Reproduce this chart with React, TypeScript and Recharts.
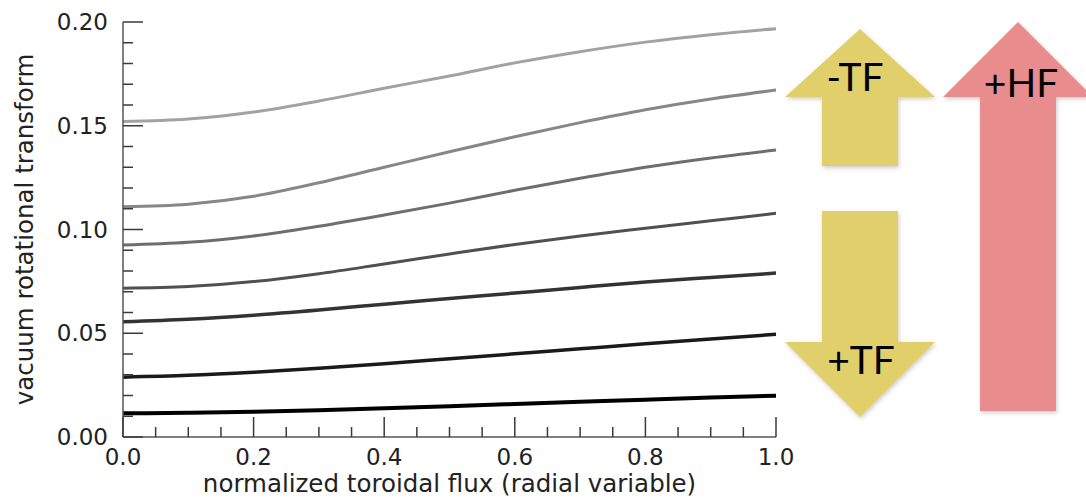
import { LineChart, Line, XAxis, YAxis } from 'recharts'

// radial variable samples
const xValues = [0, 0.1, 0.2, 0.3, 0.4, 0.5, 0.6, 0.7, 0.8, 0.9, 1.0]

// vacuum rotational transform, top curve first
const iota1 = [0.152, 0.1532, 0.1566, 0.1619, 0.1681, 0.174, 0.1803, 0.1857, 0.1903, 0.1939, 0.1968]
const iota2 = [0.111, 0.1122, 0.116, 0.1225, 0.13, 0.1375, 0.1447, 0.1515, 0.1577, 0.1629, 0.1672]
const iota3 = [0.0925, 0.0938, 0.0969, 0.1016, 0.107, 0.1127, 0.1189, 0.1247, 0.13, 0.1345, 0.1383]
const iota4 = [0.0717, 0.0725, 0.0749, 0.0787, 0.0834, 0.0882, 0.0928, 0.0969, 0.1006, 0.1042, 0.1078]
const iota5 = [0.0556, 0.0568, 0.0587, 0.0612, 0.064, 0.0667, 0.0694, 0.0721, 0.0747, 0.0769, 0.079]
const iota6 = [0.0288, 0.0297, 0.0312, 0.0331, 0.0353, 0.0377, 0.0401, 0.0425, 0.0449, 0.0472, 0.0495]
const iota7 = [0.0114, 0.0117, 0.0122, 0.0129, 0.0138, 0.0148, 0.0159, 0.017, 0.018, 0.019, 0.0199]

const seriesValues = [iota1, iota2, iota3, iota4, iota5, iota6, iota7]
const seriesColors = ['#a2a2a2', '#878787', '#6e6e6e', '#505050', '#333333', '#1a1a1a', '#000000']

const xTicks = [0, 0.05, 0.1, 0.15, 0.2, 0.25, 0.3, 0.35, 0.4, 0.45, 0.5, 0.55, 0.6, 0.65, 0.7, 0.75, 0.8, 0.85, 0.9, 0.95, 1.0]
const xMajorTicks = [0, 0.2, 0.4, 0.6, 0.8, 1.0]
const yTicks = [0, 0.01, 0.02, 0.03, 0.04, 0.05, 0.06, 0.07, 0.08, 0.09, 0.1, 0.11, 0.12, 0.13, 0.14, 0.15, 0.16, 0.17, 0.18, 0.19, 0.2]
const yMajorTicks = [0, 0.05, 0.1, 0.15, 0.2]

const xTitle = 'normalized toroidal flux (radial variable)'
const yTitle = 'vacuum rotational transform'

const data = xValues.map((x, i) => {
  const row: Record<string, number> = { x }
  seriesValues.forEach((s, j) => { row[`s${j + 1}`] = s[i] })
  return row
})

const FONT = '"DejaVu Sans", sans-serif'
const TICK_COLOR = '#3a3a3a'
const MAJOR = 20
const MINOR = 10
const Y_GAP = 15

const isMajor = (list: number[], v: number) => list.some(m => Math.abs(m - v) < 1e-6)

const BottomTick = (props: any) => {
  const { x, y, payload } = props
  const major = isMajor(xMajorTicks, payload.value)
  return (
    <g>
      <line x1={x} x2={x} y1={y} y2={y - (major ? MAJOR : MINOR)} stroke={TICK_COLOR} strokeWidth={1.5} />
      {major && (
        <text x={x} y={y + 28} textAnchor="middle" fontFamily={FONT} fontSize={23} fill="#222">
          {payload.value.toFixed(1)}
        </text>
      )}
    </g>
  )
}

const TopTick = (props: any) => {
  const { x, y, payload } = props
  const major = isMajor(xMajorTicks, payload.value)
  return <line x1={x} x2={x} y1={y} y2={y + (major ? MAJOR : MINOR)} stroke={TICK_COLOR} strokeWidth={1.5} />
}

const LeftTick = (props: any) => {
  const { x, y, payload } = props
  const major = isMajor(yMajorTicks, payload.value)
  return (
    <g>
      <line x1={x + Y_GAP} x2={x + Y_GAP + (major ? MAJOR : MINOR)} y1={y} y2={y} stroke={TICK_COLOR} strokeWidth={1.5} />
      {major && (
        <text x={x} y={y} dy={8} textAnchor="end" fontFamily={FONT} fontSize={23} fill="#222">
          {payload.value.toFixed(2)}
        </text>
      )}
    </g>
  )
}

const RightTick = (props: any) => {
  const { x, y, payload } = props
  const major = isMajor(yMajorTicks, payload.value)
  return <line x1={x} x2={x - (major ? MAJOR : MINOR)} y1={y} y2={y} stroke={TICK_COLOR} strokeWidth={1.5} />
}

const XTitle = (props: any) => {
  const { x, y, width } = props.viewBox
  return (
    <text x={x + width / 2} y={y + 55} textAnchor="middle" fontFamily={FONT} fontSize={24.5} fill="#222">
      {xTitle}
    </text>
  )
}

const YTitle = (props: any) => {
  const { x, y, height } = props.viewBox
  const cx = x + 33
  const cy = y + height / 2
  return (
    <text x={cx} y={cy} transform={`rotate(-90 ${cx} ${cy})`} textAnchor="middle" fontFamily={FONT} fontSize={24.5} fill="#222">
      {yTitle}
    </text>
  )
}

const ARROW_FONT = 'Lato, "Open Sans", sans-serif'

function Arrows() {
  return (
    <svg width={1086} height={501} style={{ position: 'absolute', left: 0, top: 0 }}>
      <defs>
        <filter id="shadow" x="-20%" y="-20%" width="140%" height="140%">
          <feDropShadow dx={1} dy={2} stdDeviation={2} floodColor="#000" floodOpacity={0.2} />
        </filter>
      </defs>
      <g filter="url(#shadow)">
        <polygon points="860,29 935,97 898,97 898,166 822,166 822,97 785,97" fill="#e0cf6b" />
        <polygon points="822,211 898,211 898,342 935,342 860,417 785,342 822,342" fill="#e0cf6b" />
        <polygon points="1018,22 1093,97 1056,97 1056,411 980,411 980,97 943,97" fill="#e88c8d" />
      </g>
      <text x={855} y={91} textAnchor="middle" fontFamily={ARROW_FONT} fontSize={39} fill="#000">-TF</text>
      <text x={861} y={374} textAnchor="middle" fontFamily={ARROW_FONT} fontSize={39} fill="#000">+TF</text>
      <text x={1021} y={97} textAnchor="middle" fontFamily={ARROW_FONT} fontSize={39} fill="#000">+HF</text>
    </svg>
  )
}

export default function App() {
  return (
    <div style={{ position: 'absolute', left: 0, top: 0, width: 1086, height: 501, background: '#fff' }}>
      <LineChart width={1086} height={501} data={data} margin={{ top: 22, right: 310, bottom: 0, left: 0 }}>
        <XAxis
          dataKey="x"
          type="number"
          domain={[0, 1]}
          ticks={xTicks}
          interval={0}
          height={64}
          tickSize={0}
          tickMargin={0}
          tickLine={false}
          tick={<BottomTick />}
          axisLine={{ stroke: '#555', strokeWidth: 1.5 }}
          label={<XTitle />}
        />
        <XAxis
          xAxisId="top"
          orientation="top"
          dataKey="x"
          type="number"
          domain={[0, 1]}
          ticks={xTicks}
          interval={0}
          height={0}
          tickSize={0}
          tickMargin={0}
          tickLine={false}
          tick={<TopTick />}
          axisLine={{ stroke: '#555', strokeWidth: 1.5 }}
        />
        <YAxis
          type="number"
          domain={[0, 0.2]}
          ticks={yTicks}
          interval={0}
          width={123}
          tickSize={0}
          tickMargin={Y_GAP}
          tickLine={false}
          tick={<LeftTick />}
          axisLine={{ stroke: '#555', strokeWidth: 1.5 }}
          label={<YTitle />}
        />
        <YAxis
          yAxisId="right"
          orientation="right"
          type="number"
          domain={[0, 0.2]}
          ticks={yTicks}
          interval={0}
          width={0}
          tickSize={0}
          tickMargin={0}
          tickLine={false}
          tick={<RightTick />}
          axisLine={{ stroke: '#555', strokeWidth: 1.5 }}
        />
        {seriesValues.map((_, j) => (
          <Line
            key={j}
            dataKey={`s${j + 1}`}
            type="monotone"
            stroke={seriesColors[j]}
            strokeWidth={j < 4 ? 3 : j < 6 ? 3.5 : 4}
            dot={false}
            isAnimationActive={false}
          />
        ))}
      </LineChart>
      <Arrows />
    </div>
  )
}
